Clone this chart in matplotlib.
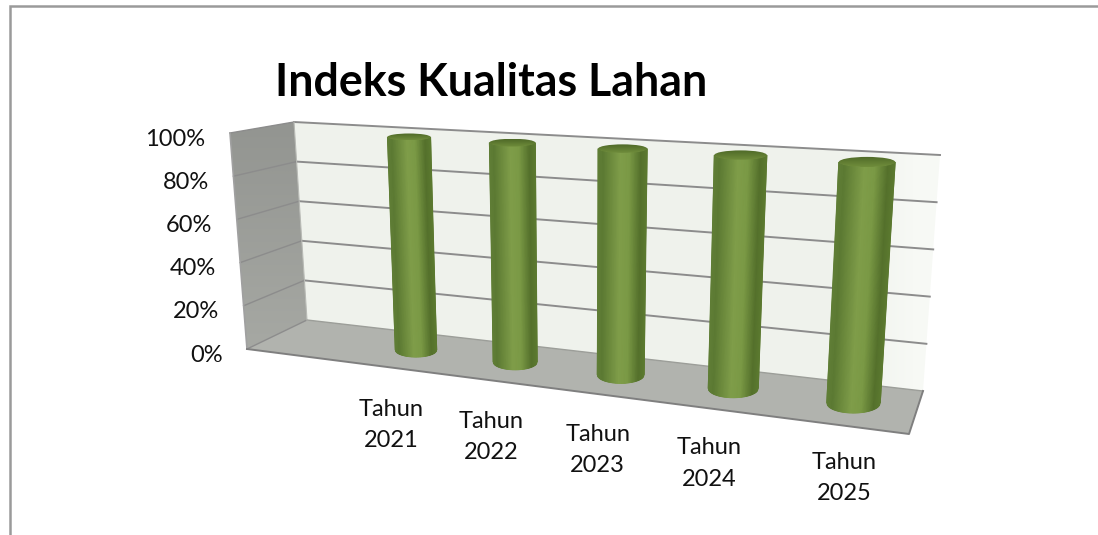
"""Indeks Kualitas Lahan: hand-projected 3D cylinder column chart."""

import numpy as np
import matplotlib
matplotlib.use("Agg")
import matplotlib.pyplot as plt
from matplotlib.colors import LinearSegmentedColormap
from matplotlib.patches import Ellipse, Polygon

title = "Indeks Kualitas Lahan"
categories = ["Tahun\n2021", "Tahun\n2022", "Tahun\n2023", "Tahun\n2024", "Tahun\n2025"]
values = [100, 100, 100, 100, 100]
ticks = [0, 20, 40, 60, 80, 100]
tick_labels = ["0%", "20%", "40%", "60%", "80%", "100%"]

plt.rcParams["font.family"] = ["Lato", "DejaVu Sans"]

# pixel anchors of the fake 3D box
back_tl, back_bl = np.array([294.0, 122.0]), np.array([307.0, 320.0])
back_tr, back_br = np.array([940.0, 155.0]), np.array([923.0, 391.0])
side_tl, side_bl = np.array([230.0, 133.0]), np.array([247.0, 349.0])
floor_fr = np.array([909.0, 434.0])

GRID = "#8c8c8c"
BAR_WIDTH = 0.43   # in category units
label_dx = [-24.5, -24, -23, -24, -9]
label_dy = 75


def homography(src, dst):
    a, b = [], []
    for (x, y), (u, v) in zip(src, dst):
        a.append([x, y, 1, 0, 0, 0, -u * x, -u * y])
        a.append([0, 0, 0, x, y, 1, -v * x, -v * y])
        b += [u, v]
    return np.append(np.linalg.solve(np.array(a), np.array(b)), 1).reshape(3, 3)


# category index + value -> pixel, on the plane through the cylinder axes
H = homography(
    [(0, 0), (4, 0), (0, 100), (4, 100)],
    [(416, 350), (853.5, 403), (409, 137), (867, 162)],
)


def project(c, v):
    p = H @ np.array([c, v, 1.0])
    return p[:2] / p[2]


def lerp(a, b, t):
    return a + (b - a) * t


fig = plt.figure(figsize=(10.98, 5.35), dpi=100)
ax = fig.add_axes([0, 0, 1, 1])
ax.set_xlim(0, 1098)
ax.set_ylim(535, 0)
ax.set_autoscale_on(False)
ax.axis("off")

# chart frame, only the top and left edges are in view
ax.plot([9.5, 9.5, 1098], [535, 6, 6], color="#9a9a9a", lw=1.8, solid_joinstyle="miter")

# back wall, fades out at its right side
wall = ax.imshow(
    np.array([[0.0, 0.0, 0.0, 0.0, 0.0, 0.0, 0.0, 0.0, 0.0, 0.0, 0.15, 1.0]]),
    cmap=LinearSegmentedColormap.from_list("wall", ["#eff2ec", "#f7f9f5"]),
    extent=(294, 940, 391, 122), aspect="auto", zorder=1, interpolation="bilinear",
)
wall.set_clip_path(Polygon([back_tl, back_tr, back_br, back_bl], transform=ax.transData))

# side wall and floor
side = ax.imshow(
    np.linspace(0, 1, 40).reshape(-1, 1),
    cmap=LinearSegmentedColormap.from_list("side", ["#939591", "#a6a8a3"]),
    extent=(230, 307, 349, 122), aspect="auto", zorder=1, interpolation="bilinear",
)
side.set_clip_path(Polygon([side_tl, back_tl, back_bl, side_bl], transform=ax.transData))
ax.add_patch(Polygon([side_bl, back_bl, back_br, floor_fr], closed=True,
                     facecolor="#b1b3ae", edgecolor="none", zorder=1))

# gridlines across back wall and side wall
for v in ticks:
    t = v / 100
    left, right = lerp(back_bl, back_tl, t), lerp(back_br, back_tr, t)
    outer = lerp(side_bl, side_tl, t)
    if v not in (0, 100):
        ax.plot([left[0], right[0]], [left[1], right[1]], color=GRID, lw=1.4, zorder=2)
    ax.plot([outer[0], left[0]], [outer[1], left[1]], color=GRID, lw=1.0, zorder=2)

# box edges
ax.plot(*zip(back_tl, back_tr), color=GRID, lw=1.4, zorder=2)
ax.plot(*zip(back_bl, back_br), color="#9c9e99", lw=1.0, zorder=2)
ax.plot(*zip(side_tl, side_bl), color="#a0a0a0", lw=1.2, zorder=2)
ax.plot(*zip(back_tl, back_bl), color="#b8bab5", lw=0.8, zorder=2)
ax.plot(*zip(side_bl, floor_fr, back_br), color="#7f7f7f", lw=1.4, zorder=2)

# cylinders
body = LinearSegmentedColormap.from_list(
    "body",
    [(0.0, "#607e36"), (0.1, "#5c7a33"), (0.45, "#7f9d49"), (0.65, "#7a9945"),
     (0.88, "#55712c"), (1.0, "#5c7a30")],
)
cap = LinearSegmentedColormap.from_list("cap", ["#4f6a28", "#6f8c3b"])
u = np.linspace(-1, 1, 61)
for i, val in enumerate(values):
    base = project(i, 0)
    top = project(i, val)
    half_base = (project(i + BAR_WIDTH / 2, 0) - project(i - BAR_WIDTH / 2, 0))[0] / 2
    half_top = (project(i + BAR_WIDTH / 2, val) - project(i - BAR_WIDTH / 2, val))[0] / 2
    minor_base = 7 + 0.75 * i
    minor_top = 3.5 + 0.4 * i

    xs = np.array([top[0] + u * half_top, base[0] + u * half_base])
    ys = np.array([top[1] + minor_top * np.sqrt(1 - u ** 2),
                   base[1] + minor_base * np.sqrt(1 - u ** 2)])
    colour = np.tile((u + 1) / 2, (2, 1))
    ax.pcolormesh(xs, ys, colour, cmap=body, shading="gouraud", zorder=3, vmin=0, vmax=1)

    lid = Ellipse(top, half_top * 2, minor_top * 2, facecolor="none", edgecolor="none",
                  transform=ax.transData)
    ax.add_patch(lid)
    shade = ax.imshow(
        np.linspace(0, 1, 12).reshape(-1, 1), cmap=cap, aspect="auto", zorder=4,
        interpolation="bilinear",
        extent=(top[0] - half_top, top[0] + half_top, top[1] + minor_top, top[1] - minor_top),
    )
    shade.set_clip_path(lid)

    ax.text(base[0] + label_dx[i], base[1] + label_dy, categories[i], ha="center", va="center",
            fontsize=17, color="#111111", linespacing=1.6, zorder=5)

# value axis labels follow the slanted outer wall edge
for v, lab in zip(ticks, tick_labels):
    p = lerp(side_bl, side_tl, v / 100)
    ax.text(p[0] - 24.5, p[1] + 6, lab, ha="right", va="center", fontsize=17,
            color="#111111", zorder=5)

ax.text(491, 83, title, ha="center", va="center", fontsize=32.2, fontweight="bold",
        color="#000000", zorder=5)

fig.savefig("out.png", dpi=100)
